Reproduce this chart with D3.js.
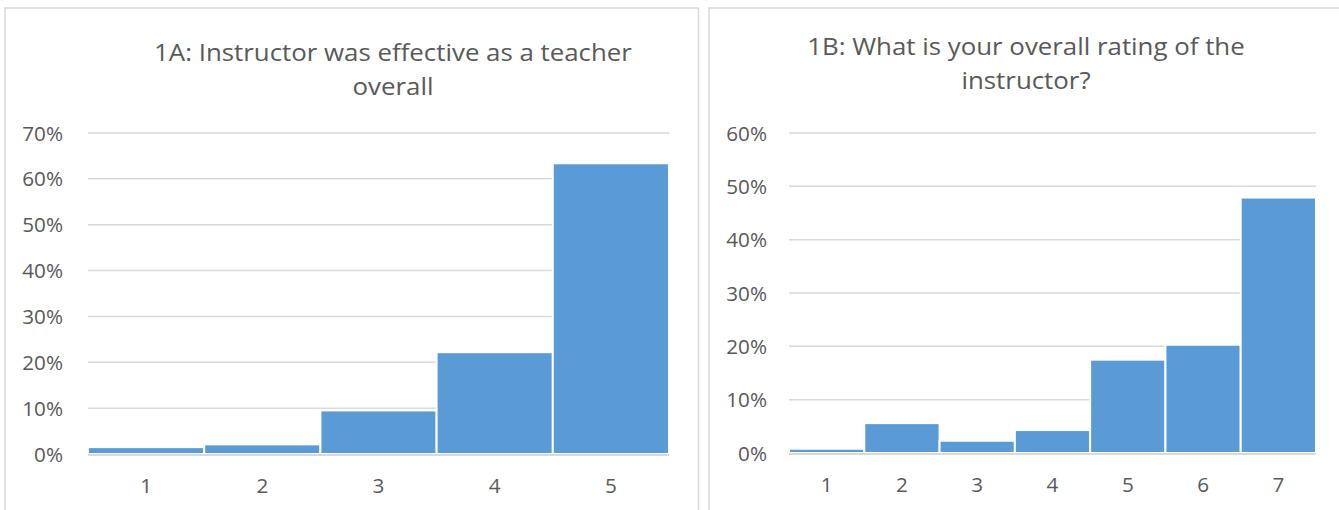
<!DOCTYPE html>
<html>
<head>
<meta charset="utf-8">
<script src="https://cdn.jsdelivr.net/npm/d3@7"></script>
<style>
  body { margin: 0; background: #fff; }
  svg { display: block; font-family: "Open Sans", "Liberation Sans", sans-serif; }
</style>
</head>
<body>
<svg id="chart" width="1339" height="510"></svg>
<script>
// Survey question 1A: share of responses per rating (1-5)
const ratingsA = ["1", "2", "3", "4", "5"];
const sharesA = [0.015, 0.021, 0.095, 0.222, 0.634];
const ticksA = [0, 0.1, 0.2, 0.3, 0.4, 0.5, 0.6, 0.7];
const titleA = ["1A: Instructor was effective as a teacher", "overall"];

// Survey question 1B: share of responses per rating (1-7)
const ratingsB = ["1", "2", "3", "4", "5", "6", "7"];
const sharesB = [0.008, 0.056, 0.023, 0.043, 0.175, 0.203, 0.479];
const ticksB = [0, 0.1, 0.2, 0.3, 0.4, 0.5, 0.6];
const titleB = ["1B: What is your overall rating of the", "instructor?"];

const svg = d3.select("#chart");
const GRID = "#d9d9d9", TEXT = "#595959", BAR = "#5b9bd5";
const FONT = '"Open Sans", "Liberation Sans", sans-serif';

// widen a text element horizontally around its anchor point
function widen(sel, k) {
  sel.each(function () {
    const t = d3.select(this);
    const x = +t.attr("x") || 0, y = +t.attr("y") || 0;
    t.attr("x", 0).attr("y", 0)
     .attr("transform", `translate(${x},${y}) scale(${k},1)`);
  });
}

function drawPanel(cfg) {
  const g = svg.append("g");

  // chart frame
  g.append("rect")
    .attr("x", cfg.frame.x).attr("y", cfg.frame.y)
    .attr("width", cfg.frame.w).attr("height", cfg.frame.h)
    .attr("fill", "#fff").attr("stroke", GRID).attr("stroke-width", 1.5);

  // title, two lines
  g.append("g").selectAll("text").data(cfg.title).join("text")
    .attr("x", cfg.titleX)
    .attr("y", (d, i) => cfg.titleY + i * 34)
    .attr("text-anchor", "middle")
    .attr("fill", TEXT)
    .style("font-size", "23.5px")
    .text(d => d)
    .call(widen, 1.1);

  const x = d3.scaleBand().domain(cfg.cats).range([cfg.plot.left, cfg.plot.right]).padding(0);
  const y = d3.scaleLinear().domain([0, d3.max(cfg.ticks)]).range([cfg.plot.bottom, cfg.plot.top]);

  // horizontal gridlines
  g.append("g").selectAll("line").data(cfg.ticks).join("line")
    .attr("x1", cfg.plot.left).attr("x2", cfg.plot.right)
    .attr("y1", d => y(d)).attr("y2", d => y(d))
    .attr("stroke", GRID).attr("stroke-width", 1.5);

  // y axis labels
  const yAxis = d3.axisLeft(y).tickValues(cfg.ticks).tickFormat(d3.format(".0%"))
    .tickSize(0).tickPadding(cfg.yPad);
  const ya = g.append("g").attr("transform", `translate(${cfg.plot.left},0)`).call(yAxis)
    .attr("font-family", FONT).attr("font-size", 19.5);
  ya.select(".domain").remove();
  ya.selectAll("text").attr("fill", TEXT).attr("dy", null).attr("y", 7).call(widen, 1.06);

  // bars
  g.append("g").selectAll("rect").data(cfg.values).join("rect")
    .attr("x", (d, i) => x(cfg.cats[i]))
    .attr("width", x.bandwidth())
    .attr("y", d => y(d))
    .attr("height", d => y(0) - y(d))
    .attr("fill", BAR)
    .attr("stroke", "#fff").attr("stroke-width", 2);

  // baseline
  g.append("line")
    .attr("x1", cfg.plot.left).attr("x2", cfg.plot.right)
    .attr("y1", y(0) + 1).attr("y2", y(0) + 1)
    .attr("stroke", GRID).attr("stroke-width", 2);

  // x axis labels
  const xAxis = d3.axisBottom(x).tickSize(0).tickPadding(0);
  const xa = g.append("g").attr("transform", `translate(0,${cfg.xLabelY})`).call(xAxis)
    .attr("font-family", FONT).attr("font-size", 19.5);
  xa.select(".domain").remove();
  xa.selectAll("text").attr("fill", TEXT).attr("dy", null).attr("y", 0).call(widen, 1.06);
}

drawPanel({
  frame: { x: 5, y: 8, w: 693.5, h: 520 },
  plot: { left: 88, right: 669, top: 133, bottom: 454 },
  title: titleA, titleX: 393, titleY: 61,
  cats: ratingsA, values: sharesA, ticks: ticksA,
  yPad: 25, xLabelY: 493
});

drawPanel({
  frame: { x: 709, y: 8, w: 660, h: 520 },
  plot: { left: 789, right: 1316, top: 133, bottom: 453 },
  title: titleB, titleX: 1026, titleY: 55,
  cats: ratingsB, values: sharesB, ticks: ticksB,
  yPad: 22, xLabelY: 492
});
</script>
</body>
</html>
